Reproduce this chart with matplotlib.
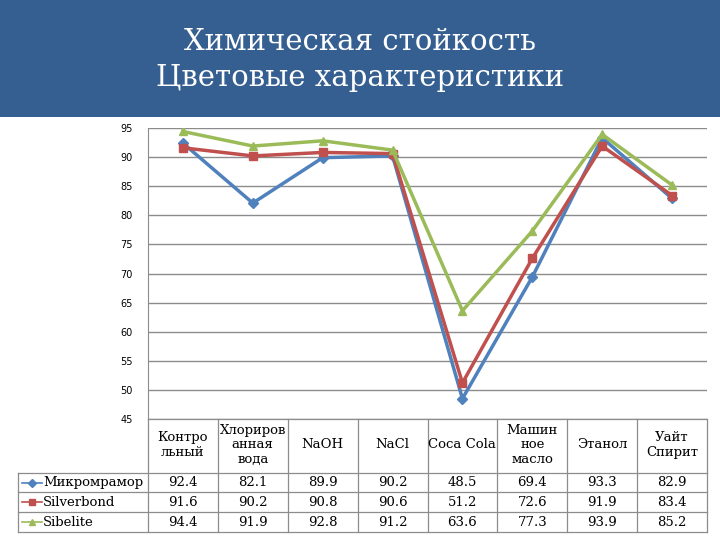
import matplotlib.pyplot as plt
from matplotlib.patches import Rectangle
from matplotlib.lines import Line2D
import matplotlib.transforms as mtransforms

categories = ["Контро\nльный", "Хлориров\nанная\nвода", "NaOH", "NaCl", "Coca Cola",
              "Машин\nное\nмасло", "Этанол", "Уайт\nСпирит"]
series_names = ["Микромрамор", "Silverbond", "Sibelite"]
mikromramor = [92.4, 82.1, 89.9, 90.2, 48.5, 69.4, 93.3, 82.9]
silverbond = [91.6, 90.2, 90.8, 90.6, 51.2, 72.6, 91.9, 83.4]
sibelite = [94.4, 91.9, 92.8, 91.2, 63.6, 77.3, 93.9, 85.2]
yticks = [45, 50, 55, 60, 65, 70, 75, 80, 85, 90, 95]

colors = ["#4F81BD", "#C0504D", "#9BBB59"]
markers = ["D", "s", "^"]
msizes = [5, 6, 6]

W, H = 720, 540
fig = plt.figure(figsize=(7.2, 5.4), dpi=100)
fig.patch.set_facecolor("white")


def fx(px):
    return px / W


def fy(py):
    return 1 - py / H


# title banner
fig.patches.append(Rectangle((0, fy(117)), 1, 117 / H, transform=fig.transFigure,
                             facecolor="#365F91", edgecolor="none", zorder=0))
fig.text(0.5, fy(42), "Химическая стойкость", color="white", fontsize=21,
         family="DejaVu Serif", ha="center", va="center")
fig.text(0.5, fy(78), "Цветовые характеристики", color="white", fontsize=21,
         family="DejaVu Serif", ha="center", va="center")

left, right, top, bottom = 148, 707, 128, 419
ax = fig.add_axes([fx(left), fy(bottom), fx(right - left), (bottom - top) / H])
n = len(categories)
ax.set_xlim(-0.5, n - 0.5)
ax.set_ylim(45, 95)
ax.set_yticks(yticks)
ax.set_yticklabels([str(v) for v in yticks], fontsize=7)
ax.set_xticks([])
ax.tick_params(axis="y", length=0, pad=11)
ax.yaxis.grid(True, color="#8C8C8C", linewidth=1)
ax.set_axisbelow(True)
for s in ["right", "bottom", "top"]:
    ax.spines[s].set_visible(False)
ax.spines["left"].set_color("#8C8C8C")

xs = list(range(n))
all_series = [mikromramor, silverbond, sibelite]
for vals, c, m, ms in zip(all_series, colors, markers, msizes):
    ax.plot(xs, vals, color=c, linewidth=2.5, marker=m, markersize=ms,
            markeredgecolor=c, markerfacecolor=c)

# data table below
trans = mtransforms.blended_transform_factory(ax.transData, fig.transFigure)
line_c = "#8C8C8C"
header_bot = 473
row_lines = [473, 492, 512, 532]
serif = "DejaVu Serif"

for k in range(n + 1):
    x = k - 0.5
    fig.lines.append(Line2D([x, x], [fy(bottom), fy(532)], transform=trans,
                            color=line_c, linewidth=0.9))
fig.lines.append(Line2D([fx(left), fx(right)], [fy(bottom), fy(bottom)],
                        transform=fig.transFigure, color=line_c, linewidth=0.9))
for r in row_lines:
    fig.lines.append(Line2D([fx(18), fx(right)], [fy(r), fy(r)],
                            transform=fig.transFigure, color=line_c, linewidth=0.9))
fig.lines.append(Line2D([fx(18), fx(18)], [fy(473), fy(532)],
                        transform=fig.transFigure, color=line_c, linewidth=0.9))

for i, cat in enumerate(categories):
    fig.text(i, fy(445), cat, transform=trans,
             ha="center", va="center", fontsize=9.5, family=serif, linespacing=1.15)

for r, (name, vals, c, m) in enumerate(zip(series_names, all_series, colors, markers)):
    yc = fy((row_lines[r] + row_lines[r + 1]) / 2)
    fig.lines.append(Line2D([fx(22), fx(42)], [yc, yc], transform=fig.transFigure,
                            color=c, linewidth=1.2))
    fig.lines.append(Line2D([fx(32)], [yc], transform=fig.transFigure, color=c,
                            marker=m, markersize=4, markeredgecolor=c))
    fig.text(fx(43), yc, name, ha="left", va="center", fontsize=9.5, family=serif)
    for i, v in enumerate(vals):
        fig.text(i, yc, f"{v:.1f}", transform=trans, ha="center", va="center",
                 fontsize=9.5, family=serif)

fig.savefig("out.png", dpi=100)
